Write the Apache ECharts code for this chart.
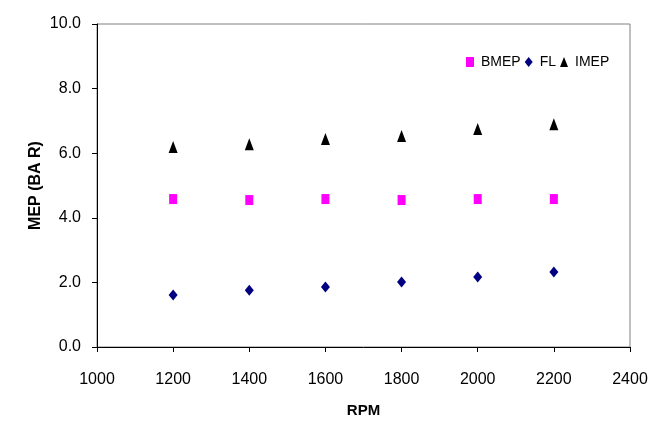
<!DOCTYPE html>
<html><head><meta charset="utf-8">
<script src="https://cdn.jsdelivr.net/npm/echarts@6/dist/echarts.min.js"></script>
<style>html,body{margin:0;padding:0;background:#fff}#c{width:666px;height:427px}</style>
</head><body><div id="c"></div>
<script>
const rpm = [1200, 1400, 1600, 1800, 2000, 2200];
const bmep = [4.58, 4.55, 4.58, 4.55, 4.58, 4.58];
const fl = [1.61, 1.76, 1.86, 2.01, 2.17, 2.32];
const imep = [6.19, 6.28, 6.44, 6.53, 6.75, 6.9];
const pairs = (xs, ys) => xs.map((x, i) => [x, ys[i]]);
const chart = echarts.init(document.getElementById('c'));
const font = 'Liberation Sans, Arial, sans-serif';
chart.setOption({
  animation: false,
  grid: {left: 97, right: 36, top: 24, bottom: 80, show: true, borderColor: '#808080', borderWidth: 1,
         containLabel: false, outerBoundsMode: 'none'},
  legend: {
    left: 461, top: 50, itemGap: 4, itemWidth: 8, itemHeight: 10,
    textStyle: {fontFamily: font, fontSize: 14, color: '#000', padding: [0, 0, 0, 2]},
    data: [
      {name: 'BMEP', icon: 'rect'},
      {name: 'FL', icon: 'diamond'},
      {name: 'IMEP', icon: 'triangle'}
    ]
  },
  xAxis: {
    type: 'value', min: 1000, max: 2400, interval: 200,
    name: 'RPM', nameLocation: 'middle', nameGap: 56, nameMoveOverlap: false,
    nameTextStyle: {fontFamily: font, fontSize: 15, fontWeight: 'bold', color: '#000'},
    axisLine: {lineStyle: {color: '#000'}},
    axisTick: {show: true, length: 5, lineStyle: {color: '#000'}},
    axisLabel: {fontFamily: font, fontSize: 16, color: '#000', margin: 25, formatter: v => String(v)},
    splitLine: {show: false}
  },
  yAxis: {
    type: 'value', min: 0, max: 10, interval: 2,
    name: 'MEP (BA R)', nameLocation: 'middle', nameGap: 53, nameRotate: 90, nameMoveOverlap: false,
    nameTextStyle: {fontFamily: font, fontSize: 16, fontWeight: 'bold', color: '#000'},
    axisLine: {show: true, lineStyle: {color: '#000'}},
    axisTick: {show: true, length: 5, lineStyle: {color: '#000'}},
    axisLabel: {fontFamily: font, fontSize: 16, color: '#000', margin: 16, formatter: v => v.toFixed(1)},
    splitLine: {show: false}
  },
  series: [
    {name: 'BMEP', type: 'scatter', symbol: 'rect', symbolSize: [8, 10], itemStyle: {color: '#FF00FF', opacity: 1}, data: pairs(rpm, bmep)},
    {name: 'FL', type: 'scatter', symbol: 'diamond', symbolSize: [9, 11], itemStyle: {color: '#000080', opacity: 1}, data: pairs(rpm, fl)},
    {name: 'IMEP', type: 'scatter', symbol: 'triangle', symbolSize: [9, 12], itemStyle: {color: '#000', opacity: 1}, data: pairs(rpm, imep)}
  ]
});
</script></body></html>
